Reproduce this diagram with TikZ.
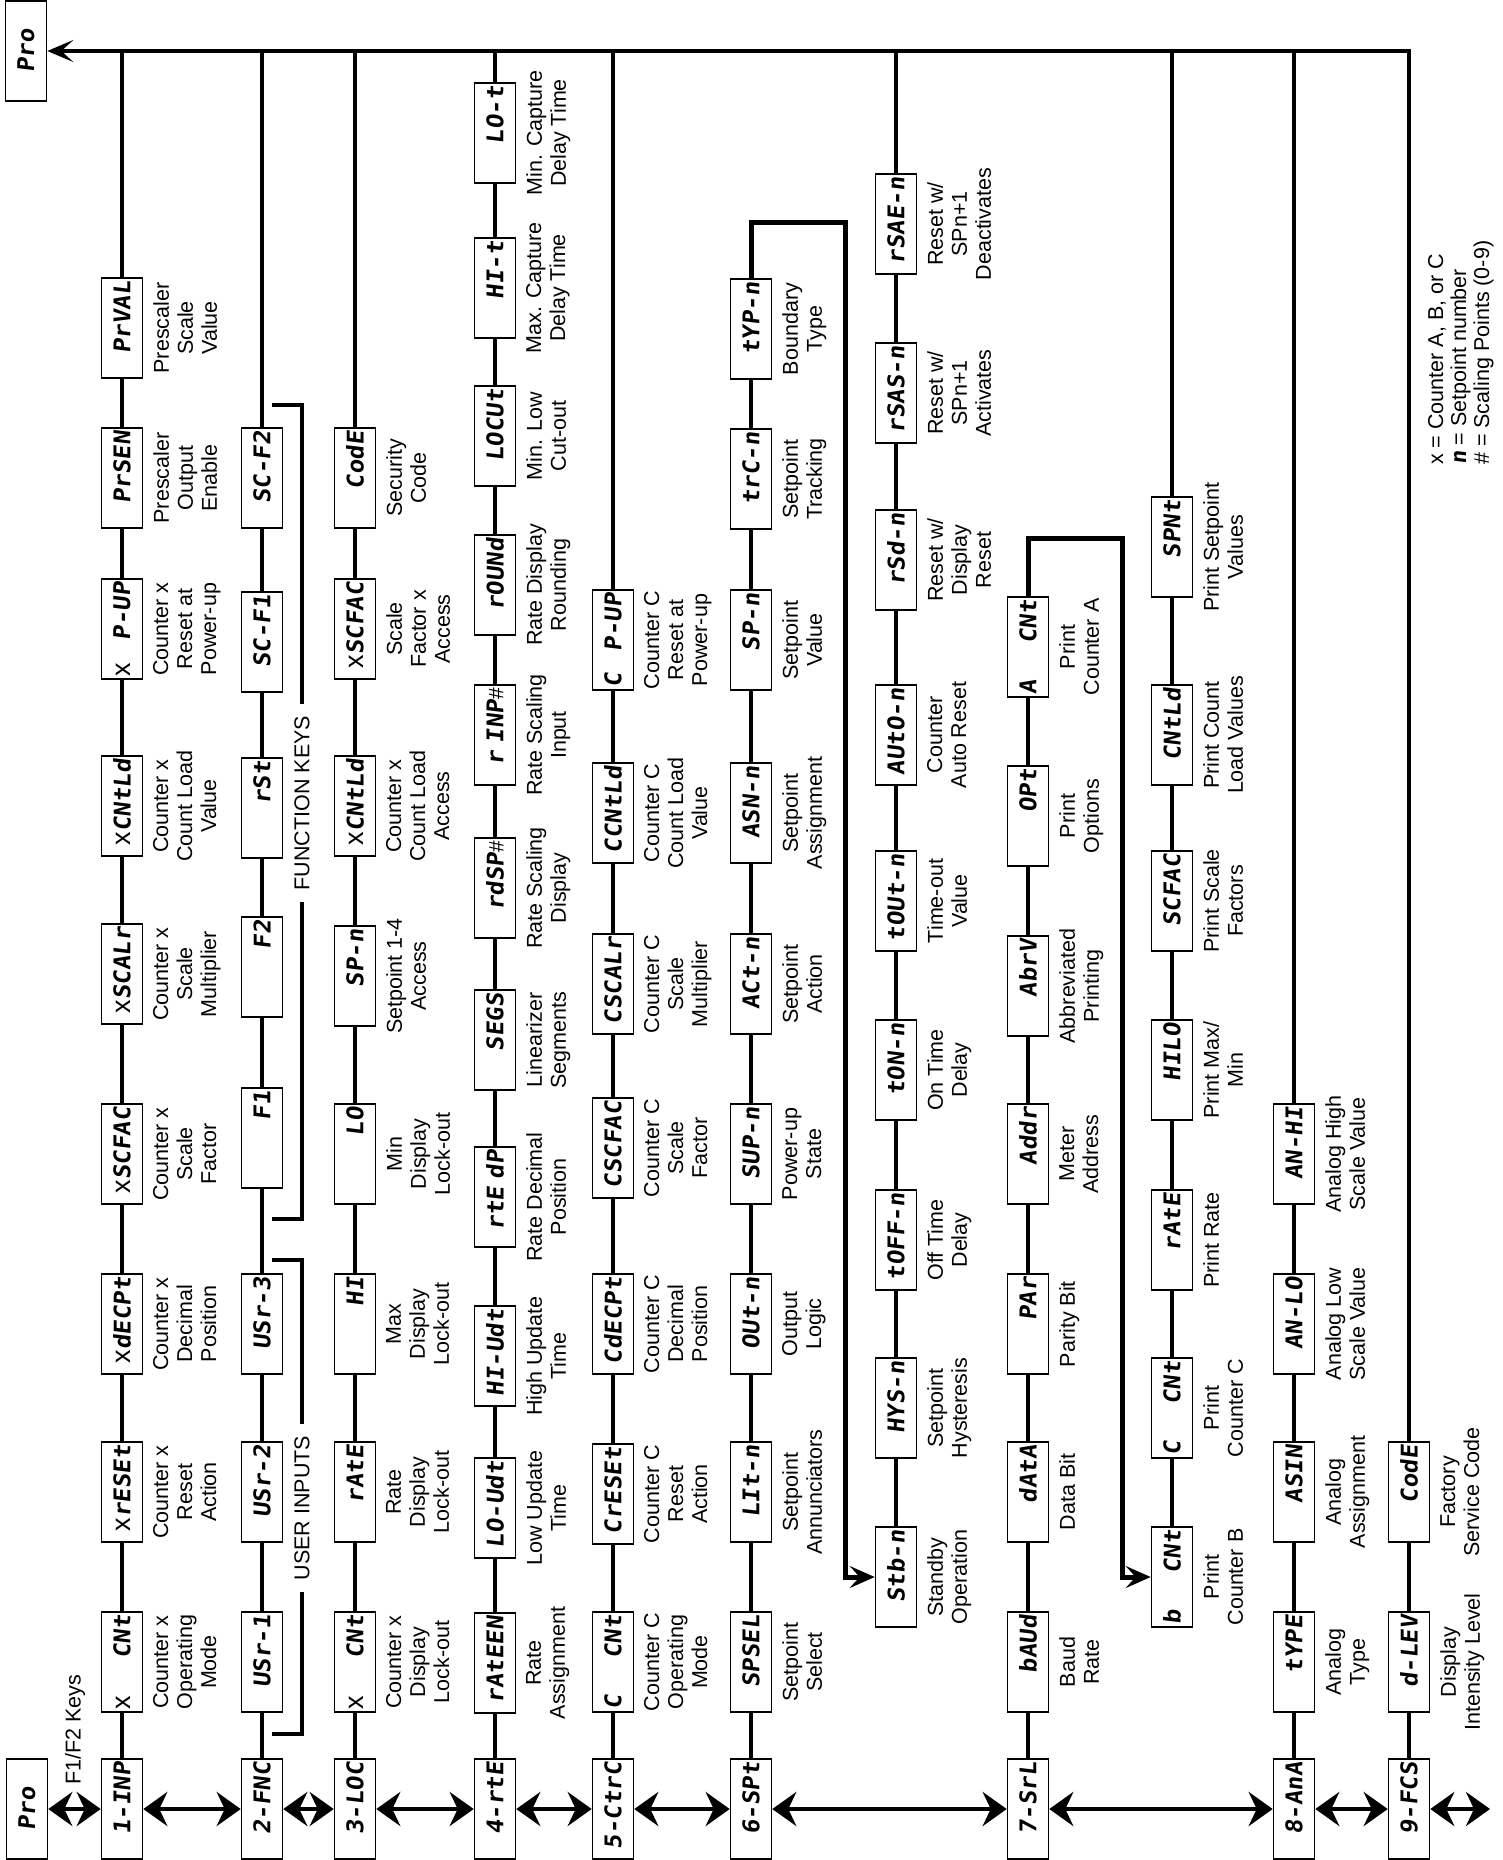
\documentclass[tikz,border=0pt]{standalone}
\usepackage{fontspec}
\setmainfont{Liberation Sans}
\newfontfamily\segfont[FakeSlant=0.12,FakeStretch=1.05]{DejaVu Sans Mono}
\usetikzlibrary{arrows.meta}
\newcommand\segx{{\normalfont\fontsize{27}{27}\selectfont x}}
\newcommand\seghash{{\normalfont\fontsize{21}{21}\selectfont\#}}
\begin{document}
\begin{tikzpicture}[x=1pt,y=-1pt,
  bx/.style={draw,line width=1.6pt,fill=white,rotate=90,minimum width=100pt,minimum height=41pt,inner xsep=3pt,inner ysep=0pt,text width=94pt,align=right,font=\segfont\bfseries\fontsize{23}{23}\selectfont},
  prob/.style={bx,align=center},
  lbl/.style={rotate=90,anchor=north,align=center,inner sep=0pt,font=\fontsize{21.5}{24}\selectfont},
  rl/.style={line width=4pt},
  tl/.style={line width=4.5pt},
  cn/.style={line width=5pt},
  br/.style={line width=4pt},
  dbl/.style={line width=4pt,{Stealth[length=24pt,width=34pt,inset=8pt]}-{Stealth[length=24pt,width=34pt,inset=8pt]}},
  tip/.style={-{Stealth[length=25pt,width=22pt,inset=10pt]}}
]
\path[fill=white] (0,0) rectangle (1502,1860);
\useasboundingbox (0,0) rectangle (1502,1860);

% Pro boxes
\node[prob] (proT) at (26,51) {Pro};
\node[prob] (proB) at (27,1809) {Pro};

% Row 1
\node[bx] (a0) at (122,1809) {1-INP};
\node[bx] (a1) at (122,1662) {\segx\hfill CNt};
\node[bx] (a2) at (122,1492) {\segx rESEt};
\node[bx] (a3) at (122,1324) {\segx dECPt};
\node[bx] (a4) at (122,1154) {\segx SCFAC};
\node[bx] (a5) at (122,974) {\segx SCALr};
\node[bx] (a6) at (122,806) {\segx CNtLd};
\node[bx] (a7) at (122,629) {\segx\hfill P-UP};
\node[bx] (a8) at (122,478) {PrSEN};
\node[bx] (a9) at (122,328) {PrVAL};
\node[lbl] (la1) at (153,1662) {Counter x\\Operating\\Mode};
\node[lbl] (la2) at (153,1492) {Counter x\\Reset\\Action};
\node[lbl] (la3) at (153,1324) {Counter x\\Decimal\\Position};
\node[lbl] (la4) at (153,1154) {Counter x\\Scale\\Factor};
\node[lbl] (la5) at (153,974) {Counter x\\Scale\\Multiplier};
\node[lbl] (la6) at (153,806) {Counter x\\Count Load\\Value};
\node[lbl] (la7) at (153,629) {Counter x\\Reset at\\Power-up};
\node[lbl] (la8) at (153,478) {Prescaler\\Output\\Enable};
\node[lbl] (la9) at (153,328) {Prescaler\\Scale\\Value};

% Row 2
\node[bx] (b0) at (262,1809) {2-FNC};
\node[bx] (b1) at (262,1662) {USr-1};
\node[bx] (b2) at (262,1492) {USr-2};
\node[bx] (b3) at (262,1324) {USr-3};
\node[bx] (b4) at (262,1138) {F1};
\node[bx] (b5) at (262,967) {F2};
\node[bx] (b6) at (262,808) {rSt};
\node[bx] (b7) at (262,642) {SC-F1};
\node[bx] (b8) at (262,478) {SC-F2};

% Row 3
\node[bx] (c0) at (355,1809) {3-LOC};
\node[bx] (c1) at (355,1662) {\segx\hfill CNt};
\node[bx] (c2) at (355,1492) {rAtE};
\node[bx] (c3) at (355,1324) {HI};
\node[bx] (c4) at (355,1154) {LO};
\node[bx] (c5) at (355,976) {SP-n};
\node[bx] (c6) at (355,806) {\segx CNtLd};
\node[bx] (c7) at (355,629) {\segx SCFAC};
\node[bx] (c8) at (355,478) {CodE};
\node[lbl] (lc1) at (386,1662) {Counter x\\Display\\Lock-out};
\node[lbl] (lc2) at (386,1492) {Rate\\Display\\Lock-out};
\node[lbl] (lc3) at (386,1324) {Max\\Display\\Lock-out};
\node[lbl] (lc4) at (386,1154) {Min\\Display\\Lock-out};
\node[lbl] (lc5) at (386,976) {Setpoint 1-4\\Access};
\node[lbl] (lc6) at (386,806) {Counter x\\Count Load\\Access};
\node[lbl] (lc7) at (386,629) {Scale\\Factor x\\Access};
\node[lbl] (lc8) at (386,478) {Security\\Code};

% Row 4
\node[bx] (d0) at (495,1809) {4-rtE};
\node[bx] (d1) at (495,1663) {rAtEEN};
\node[bx] (d2) at (495,1508) {LO-Udt};
\node[bx] (d3) at (495,1356) {HI-Udt};
\node[bx] (d4) at (495,1197) {rtE dP};
\node[bx] (d5) at (495,1040) {SEGS};
\node[bx] (d6) at (495,888) {rdSP\seghash};
\node[bx] (d7) at (495,735) {r INP\seghash};
\node[bx] (d8) at (495,585) {rOUNd};
\node[bx] (d9) at (495,436) {LOCUt};
\node[bx] (d10) at (495,288) {HI-t};
\node[bx] (d11) at (495,133) {LO-t};
\node[lbl] (ld1) at (526,1663) {Rate\\Assignment};
\node[lbl] (ld2) at (526,1508) {Low Update\\Time};
\node[lbl] (ld3) at (526,1356) {High Update\\Time};
\node[lbl] (ld4) at (526,1197) {Rate Decimal\\Position};
\node[lbl] (ld5) at (526,1040) {Linearizer\\Segments};
\node[lbl] (ld6) at (526,888) {Rate Scaling\\Display};
\node[lbl] (ld7) at (526,735) {Rate Scaling\\Input};
\node[lbl] (ld8) at (526,585) {Rate Display\\Rounding};
\node[lbl] (ld9) at (526,436) {Min. Low\\Cut-out};
\node[lbl] (ld10) at (526,288) {Max. Capture\\Delay Time};
\node[lbl] (ld11) at (526,133) {Min. Capture\\Delay Time};

% Row 5
\node[bx] (e0) at (613,1809) {5-CtrC};
\node[bx] (e1) at (613,1662) {C\hfill CNt};
\node[bx] (e2) at (613,1494) {CrESEt};
\node[bx] (e3) at (613,1324) {CdECPt};
\node[bx] (e4) at (613,1148) {CSCFAC};
\node[bx] (e5) at (613,984) {CSCALr};
\node[bx] (e6) at (613,813) {CCNtLd};
\node[bx] (e7) at (613,640) {C\hfill P-UP};
\node[lbl] (le1) at (644,1662) {Counter C\\Operating\\Mode};
\node[lbl] (le2) at (644,1494) {Counter C\\Reset\\Action};
\node[lbl] (le3) at (644,1324) {Counter C\\Decimal\\Position};
\node[lbl] (le4) at (644,1148) {Counter C\\Scale\\Factor};
\node[lbl] (le5) at (644,984) {Counter C\\Scale\\Multiplier};
\node[lbl] (le6) at (644,813) {Counter C\\Count Load\\Value};
\node[lbl] (le7) at (644,640) {Counter C\\Reset at\\Power-up};

% Row 6
\node[bx] (f0) at (751,1809) {6-SPt};
\node[bx] (f1) at (751,1662) {SPSEL};
\node[bx] (f2) at (751,1492) {LIt-n};
\node[bx] (f3) at (751,1324) {OUt-n};
\node[bx] (f4) at (751,1154) {SUP-n};
\node[bx] (f5) at (751,984) {ACt-n};
\node[bx] (f6) at (751,813) {ASN-n};
\node[bx] (f7) at (751,640) {SP-n};
\node[bx] (f8) at (751,479) {trC-n};
\node[bx] (f9) at (751,329) {tYP-n};
\node[lbl] (lf1) at (782,1662) {Setpoint\\Select};
\node[lbl] (lf2) at (782,1492) {Setpoint\\Annunciators};
\node[lbl] (lf3) at (782,1324) {Output\\Logic};
\node[lbl] (lf4) at (782,1154) {Power-up\\State};
\node[lbl] (lf5) at (782,984) {Setpoint\\Action};
\node[lbl] (lf6) at (782,813) {Setpoint\\Assignment};
\node[lbl] (lf7) at (782,640) {Setpoint\\Value};
\node[lbl] (lf8) at (782,479) {Setpoint\\Tracking};
\node[lbl] (lf9) at (782,329) {Boundary\\Type};

% Standby row
\node[bx] (s1) at (896,1577) {Stb-n};
\node[bx] (s2) at (896,1408) {HYS-n};
\node[bx] (s3) at (896,1240) {tOFF-n};
\node[bx] (s4) at (896,1070) {tON-n};
\node[bx] (s5) at (896,901) {tOUt-n};
\node[bx] (s6) at (896,735) {AUtO-n};
\node[bx] (s7) at (896,560) {rSd-n};
\node[bx] (s8) at (896,393) {rSAS-n};
\node[bx] (s9) at (896,224) {rSAE-n};
\node[lbl] (ls1) at (927,1577) {Standby\\Operation};
\node[lbl] (ls2) at (927,1408) {Setpoint\\Hysteresis};
\node[lbl] (ls3) at (927,1240) {Off Time\\Delay};
\node[lbl] (ls4) at (927,1070) {On Time\\Delay};
\node[lbl] (ls5) at (927,901) {Time-out\\Value};
\node[lbl] (ls6) at (927,735) {Counter\\Auto Reset};
\node[lbl] (ls7) at (927,560) {Reset w/\\Display\\Reset};
\node[lbl] (ls8) at (927,393) {Reset w/\\SPn+1\\Activates};
\node[lbl] (ls9) at (927,224) {Reset w/\\SPn+1\\Deactivates};

% Row 7
\node[bx] (g0) at (1028,1809) {7-SrL};
\node[bx] (g1) at (1028,1662) {bAUd};
\node[bx] (g2) at (1028,1492) {dAtA};
\node[bx] (g3) at (1028,1324) {PAr};
\node[bx] (g4) at (1028,1154) {Addr};
\node[bx] (g5) at (1028,986) {AbrV};
\node[bx] (g6) at (1028,816) {OPt};
\node[bx] (g7) at (1028,647) {A\hfill CNt};
\node[lbl] (lg1) at (1059,1662) {Baud\\Rate};
\node[lbl] (lg2) at (1059,1492) {Data Bit};
\node[lbl] (lg3) at (1059,1324) {Parity Bit};
\node[lbl] (lg4) at (1059,1154) {Meter\\Address};
\node[lbl] (lg5) at (1059,986) {Abbreviated\\Printing};
\node[lbl] (lg6) at (1059,816) {Print\\Options};
\node[lbl] (lg7) at (1059,647) {Print\\Counter A};

% Print row
\node[bx] (p1) at (1172,1577) {b\hfill CNt};
\node[bx] (p2) at (1172,1408) {C\hfill CNt};
\node[bx] (p3) at (1172,1240) {rAtE};
\node[bx] (p4) at (1172,1070) {HILO};
\node[bx] (p5) at (1172,901) {SCFAC};
\node[bx] (p6) at (1172,735) {CNtLd};
\node[bx] (p7) at (1172,547) {SPNt};
\node[lbl] (lp1) at (1203,1577) {Print\\Counter B};
\node[lbl] (lp2) at (1203,1408) {Print\\Counter C};
\node[lbl] (lp3) at (1203,1240) {Print Rate};
\node[lbl] (lp4) at (1203,1070) {Print Max/\\Min};
\node[lbl] (lp5) at (1203,901) {Print Scale\\Factors};
\node[lbl] (lp6) at (1203,735) {Print Count\\Load Values};
\node[lbl] (lp7) at (1203,547) {Print Setpoint\\Values};

% Row 8
\node[bx] (h0) at (1294,1809) {8-AnA};
\node[bx] (h1) at (1294,1662) {tYPE};
\node[bx] (h2) at (1294,1492) {ASIN};
\node[bx] (h3) at (1294,1324) {AN-LO};
\node[bx] (h4) at (1294,1154) {AN-HI};
\node[lbl] (lh1) at (1325,1662) {Analog\\Type};
\node[lbl] (lh2) at (1325,1492) {Analog\\Assignment};
\node[lbl] (lh3) at (1325,1324) {Analog Low\\Scale Value};
\node[lbl] (lh4) at (1325,1154) {Analog High\\Scale Value};

% Row 9
\node[bx] (i0) at (1409,1809) {9-FCS};
\node[bx] (i1) at (1409,1662) {d-LEV};
\node[bx] (i2) at (1409,1492) {CodE};
\node[lbl] (li1) at (1440,1662) {Display\\Intensity Level};
\node[lbl] (li2) at (1440,1492) {Factory\\Service Code};

% other texts
\node[rotate=90,inner sep=0pt,font=\fontsize{21.5}{24}\selectfont] (f12) at (75,1730) {F1/F2 Keys};
\node[rotate=90,inner xsep=12pt,inner ysep=0pt,font=\fontsize{21.5}{24}\selectfont] (ui) at (302,1508) {USER INPUTS};
\node[rotate=90,inner xsep=12pt,inner ysep=0pt,font=\fontsize{21.5}{24}\selectfont] (fk) at (302,803) {FUNCTION KEYS};
\node[rotate=90,anchor=north west,align=left,inner sep=0pt,font=\fontsize{21.5}{23}\selectfont] (leg) at (1428,465) {x = Counter A, B, or C\\{\segfont\bfseries n} = Setpoint number\\\# = Scaling Points (0-9)};

% coordinates on top line and bends
\coordinate (t1) at (122,51);
\coordinate (t2) at (262,51);
\coordinate (t3) at (355,51);
\coordinate (t4) at (495,51);
\coordinate (t5) at (613,51);
\coordinate (ts) at (896,51);
\coordinate (tp) at (1172,51);
\coordinate (t8) at (1294,51);
\coordinate (t9) at (1409,51);
\coordinate (k1) at (845,222);
\coordinate (k2) at (845,1577);
\coordinate (k3) at (1122,538);
\coordinate (k4) at (1122,1577);
\coordinate (fe) at (1490,1809);
\coordinate (ui1) at (272,1260);
\coordinate (ui2) at (302,1260);
\coordinate (ui3) at (302,1734);
\coordinate (ui4) at (272,1734);
\coordinate (fk1) at (272,405);
\coordinate (fk2) at (302,405);
\coordinate (fk3) at (302,1219);
\coordinate (fk4) at (272,1219);

% row chains
\foreach \u/\v in {a0/a1,a1/a2,a2/a3,a3/a4,a4/a5,a5/a6,a6/a7,a7/a8,a8/a9,
                   b0/b1,b1/b2,b2/b3,b3/b4,b4/b5,b5/b6,b6/b7,b7/b8,
                   c0/c1,c1/c2,c2/c3,c3/c4,c4/c5,c5/c6,c6/c7,c7/c8,
                   d0/d1,d1/d2,d2/d3,d3/d4,d4/d5,d5/d6,d6/d7,d7/d8,d8/d9,d9/d10,d10/d11,
                   e0/e1,e1/e2,e2/e3,e3/e4,e4/e5,e5/e6,e6/e7,
                   f0/f1,f1/f2,f2/f3,f3/f4,f4/f5,f5/f6,f6/f7,f7/f8,f8/f9,
                   s1/s2,s2/s3,s3/s4,s4/s5,s5/s6,s6/s7,s7/s8,s8/s9,
                   g0/g1,g1/g2,g2/g3,g3/g4,g4/g5,g5/g6,g6/g7,
                   p1/p2,p2/p3,p3/p4,p4/p5,p5/p6,p6/p7,
                   h0/h1,h1/h2,h2/h3,h3/h4,
                   i0/i1,i1/i2}
  \draw[rl] (\u) -- (\v);

% verticals to the top line
\foreach \u/\v in {a9/t1,b8/t2,c8/t3,d11/t4,e7/t5,s9/ts,p7/tp,h4/t8}
  \draw[rl] (\u) -- (\v);
\draw[tl,-{Stealth[length=26pt,width=22pt,inset=12pt]}] (i2) -- (t9) -- (proT);

% jump connectors
\draw[cn,tip] (f9.east) |- (k1) -- (k2) -- (s1);
\draw[cn,tip] (g7.east) |- (k3) -- (k4) -- (p1);

% bottom double arrows
\foreach \u/\v in {proB/a0,a0/b0,b0/c0,c0/d0,d0/e0,e0/f0,f0/g0,g0/h0,h0/i0,i0/fe}
  \draw[dbl] (\u) -- (\v);

% brackets
\draw[br] (ui.east) -- (ui2) -- (ui1);
\draw[br] (ui.west) -- (ui3) -- (ui4);
\draw[br] (fk.east) -- (fk2) -- (fk1);
\draw[br] (fk.west) -- (fk3) -- (fk4);
\end{tikzpicture}
\end{document}
